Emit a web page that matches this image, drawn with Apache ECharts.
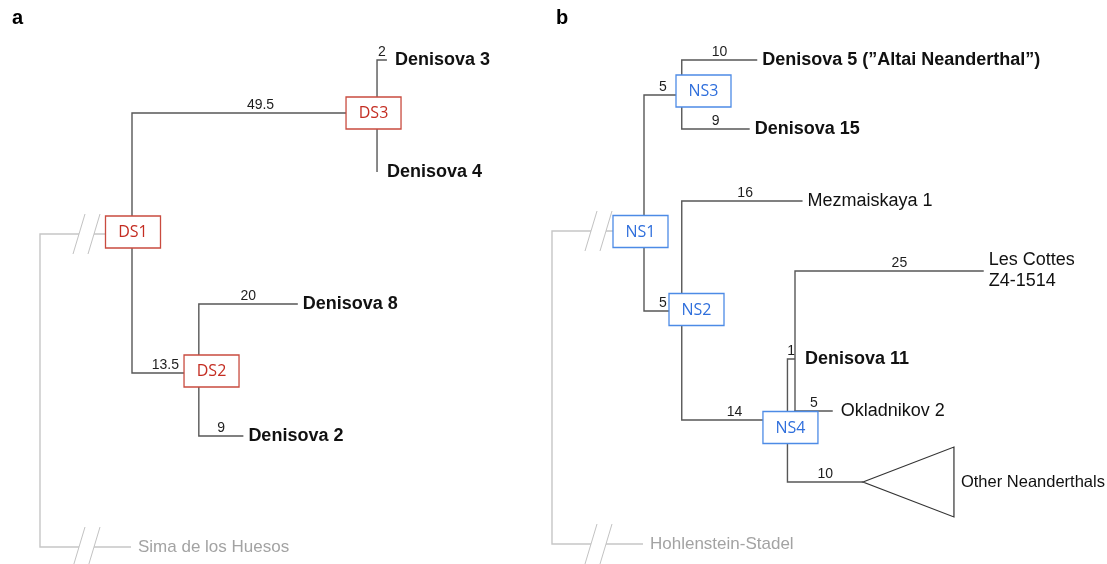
<!DOCTYPE html>
<html>
<head>
<meta charset="utf-8">
<title>Denisovan and Neanderthal phylogenies</title>
<script src="https://cdn.jsdelivr.net/npm/echarts@6/dist/echarts.min.js"></script>
<style>
  html, body { margin: 0; padding: 0; background: #ffffff; }
  #chart { width: 1107px; height: 564px; }
</style>
</head>
<body>
<div id="chart"></div>
<script>
// ---- Tree data -------------------------------------------------------------
// Nodes are listed parent-first; lengths are branch lengths from the parent.

// a: Denisovan lineage
const nodesA   = ['DS1', 'DS3', 'DS2', 'Denisova 3', 'Denisova 4', 'Denisova 8', 'Denisova 2'];
const parentsA = ['',    'DS1', 'DS1', 'DS3',        'DS3',        'DS2',        'DS2'];
const lengthsA = [0,     49.5,  13.5,  2,            0,            20,           9];
const outgroupA = 'Sima de los Huesos';

// b: Neanderthal lineage ('n4a' is the unnamed split inside NS4)
const nodesB   = ['NS1', 'NS3', 'NS2', 'Denisova 5 (\u201DAltai Neanderthal\u201D)', 'Denisova 15',
                  'Mezmaiskaya 1', 'NS4', 'Denisova 11', 'n4a', 'Les Cottes\nZ4-1514',
                  'Okladnikov 2', 'Other Neanderthals'];
const parentsB = ['',    'NS1', 'NS1', 'NS3', 'NS3', 'NS2', 'NS2', 'NS4', 'NS4', 'n4a', 'n4a', 'NS4'];
const lengthsB = [0,     5,     5,     10,    9,     16,    14,    1,     1,     25,    5,     10];
const outgroupB = 'Hohlenstein-Stadel';

// ---- Layout ----------------------------------------------------------------
const W = 1107, H = 564;
const LINE = '#575757', GREY = '#c6c6c6', GREY_TEXT = '#a3a3a3';
const FONT = '"Liberation Sans", Arial, Helvetica, sans-serif';

const layoutA = {
  tag: 'a', tagLeft: 7,
  originPx: 132, pxPerUnit: 4.95,
  row: { 'DS1': 234, 'DS3': 113, 'DS2': 373, 'Denisova 3': 60, 'Denisova 4': 172,
         'Denisova 8': 304, 'Denisova 2': 436 },
  box: { 'DS1': [1, -2], 'DS3': [-3.5, 0], 'DS2': [12.7, -2] },
  tipGap: { 'Denisova 3': 8, 'Denisova 4': 10 },
  lenDx: { 'DS3': 6 },
  quiet: [],
  collapsed: [],
  outgroupRow: 547
};
const layoutB = {
  tag: 'b', tagLeft: 551,
  originPx: 644, pxPerUnit: 7.55,
  row: { 'NS1': 231, 'NS3': 95, 'NS2': 311, 'Denisova 5 (\u201DAltai Neanderthal\u201D)': 60,
         'Denisova 15': 129, 'Mezmaiskaya 1': 201, 'NS4': 420, 'Denisova 11': 359, 'n4a': 420,
         'Les Cottes\nZ4-1514': 271, 'Okladnikov 2': 411, 'Other Neanderthals': 482 },
  box: { 'NS1': [-3.5, 0.5], 'NS3': [21.75, -4], 'NS2': [14.75, -1.5], 'NS4': [3, 7.5] },
  tipGap: { 'Denisova 11': 10, 'Okladnikov 2': 8 },
  lenDx: { 'Les Cottes\nZ4-1514': 10, 'Mezmaiskaya 1': 3 },
  quiet: ['n4a'],
  collapsed: ['Other Neanderthals'],
  outgroupRow: 544
};

function buildPanel(nodes, parents, lengths, outgroup, layout) {
  const x = {};
  nodes.forEach((n, i) => { x[n] = parents[i] ? x[parents[i]] + lengths[i] : 0; });
  return { nodes, parents, lengths, outgroup, layout, x };
}
const panelA = buildPanel(nodesA, parentsA, lengthsA, outgroupA, layoutA);
const panelB = buildPanel(nodesB, parentsB, lengthsB, outgroupB, layoutB);

// ---- Renderers ---------------------------------------------------------------
function branchRenderer(panel) {
  const L = panel.layout;
  return function (params, api) {
    const i = api.value(4);
    const name = panel.nodes[i];
    const p0 = api.coord([api.value(0), api.value(1)]);
    const corner = api.coord([api.value(0), api.value(3)]);
    const p1 = api.coord([api.value(2), api.value(3)]);
    const kids = [{
      type: 'polyline',
      shape: { points: [p0, corner, p1] },
      style: { stroke: LINE, lineWidth: 1.4, fill: 'none' }
    }];
    const len = panel.lengths[i];
    if (len > 0 && L.quiet.indexOf(name) < 0) {
      kids.push({
        type: 'text',
        style: {
          text: String(len), x: (p0[0] + p1[0]) / 2 + (L.lenDx[name] || 0), y: p1[1] - 1,
          align: 'center', verticalAlign: 'bottom', font: '14px ' + FONT, fill: '#1e1e1e'
        }
      });
    }
    const isTip = panel.parents.indexOf(name) < 0;
    if (isTip) {
      let tx = p1[0];
      let size = 18;
      if (L.collapsed.indexOf(name) >= 0) {
        const cw = 91, ch = 35;
        kids.push({
          type: 'polygon',
          shape: { points: [[p1[0], p1[1]], [p1[0] + cw, p1[1] - ch], [p1[0] + cw, p1[1] + ch]] },
          style: { stroke: '#333333', lineWidth: 1.2, fill: 'none' }
        });
        tx += cw + 2;
        size = 16.5;
      }
      tx += (L.tipGap[name] != null ? L.tipGap[name] : 5);
      const bold = /^Denisova/.test(name);
      kids.push({
        type: 'text',
        style: {
          text: name, x: tx, y: p1[1], align: 'left', verticalAlign: 'middle',
          font: (bold ? 'bold ' : '') + size + 'px ' + FONT, fill: '#111111', lineHeight: 21
        }
      });
    }
    return { type: 'group', children: kids };
  };
}

function boxRenderer(panel) {
  const L = panel.layout;
  return function (params, api) {
    const name = panel.nodes[api.value(2)];
    const c = api.coord([api.value(0), api.value(1)]);
    const off = L.box[name] || [0, 0];
    const cx = c[0] + off[0], cy = c[1] + off[1];
    const red = /^DS/.test(name);
    return {
      type: 'group',
      children: [
        { type: 'rect', shape: { x: cx - 27.5, y: cy - 16, width: 55, height: 32 },
          style: { fill: '#ffffff', stroke: red ? '#c94b3f' : '#4d8be6', lineWidth: 1.3 } },
        { type: 'text', style: { text: name, x: cx, y: cy + 0.5, align: 'center', verticalAlign: 'middle',
          font: '16px "Open Sans", "Noto Sans", sans-serif', fill: red ? '#c42d22' : '#2f6fdc' } }
      ]
    };
  };
}

// Broken branch to the distant outgroup, drawn in grey with // marks.
function outgroupRenderer(panel) {
  const L = panel.layout;
  return function (params, api) {
    const root = api.coord([api.value(0), api.value(1)]);
    const yb = api.coord([0, L.outgroupRow])[1];
    const y0 = root[1];
    const vx = root[0] - 92, mid = root[0] - 45.5, endX = root[0] - 1;
    const s1 = mid - 7.5, s2 = mid + 7.5;
    const line = (pts, w, col) => ({ type: 'polyline', shape: { points: pts },
      style: { stroke: col || GREY, lineWidth: w || 1.4, fill: 'none' } });
    const slash = (sx, y) => line([[sx - 6, y + 20], [sx + 6, y - 20]], 1, '#c2c2c2');
    return {
      type: 'group',
      children: [
        line([[root[0], y0], [s2, y0]]),
        line([[s1, y0], [vx, y0], [vx, yb], [s1, yb]]),
        line([[s2, yb], [endX, yb]]),
        slash(s1, y0), slash(s2, y0), slash(s1, yb), slash(s2, yb),
        { type: 'text', style: { text: panel.outgroup, x: endX + 7, y: yb, align: 'left',
          verticalAlign: 'middle', font: '17px ' + FONT, fill: GREY_TEXT } }
      ]
    };
  };
}

function branchData(panel) {
  const out = [];
  panel.nodes.forEach((n, i) => {
    const p = panel.parents[i];
    if (!p) return;
    out.push([panel.x[p], panel.layout.row[p], panel.x[n], panel.layout.row[n], i]);
  });
  return out;
}
function boxData(panel) {
  const out = [];
  panel.nodes.forEach((n, i) => {
    if (/^(DS|NS)\d/.test(n)) out.push([panel.x[n], panel.layout.row[n], i]);
  });
  return out;
}

// ---- Chart -------------------------------------------------------------------
const panels = [panelA, panelB];
const option = {
  animation: false,
  backgroundColor: '#ffffff',
  title: panels.map(p => ({
    text: p.layout.tag, left: p.layout.tagLeft, top: 3,
    textStyle: { fontFamily: FONT, fontSize: 20, fontWeight: 'bold', color: '#000000' }
  })),
  grid: panels.map(() => ({ left: 0, right: 0, top: 0, bottom: 0 })),
  xAxis: panels.map((p, k) => ({
    type: 'value', gridIndex: k, show: false,
    min: -p.layout.originPx / p.layout.pxPerUnit,
    max: (W - p.layout.originPx) / p.layout.pxPerUnit
  })),
  yAxis: panels.map((p, k) => ({
    type: 'value', gridIndex: k, show: false, inverse: true, min: 0, max: H
  })),
  series: []
};
panels.forEach((p, k) => {
  const rootName = p.nodes[0];
  option.series.push(
    { type: 'custom', xAxisIndex: k, yAxisIndex: k, clip: false, z: 2,
      renderItem: outgroupRenderer(p), data: [[p.x[rootName], p.layout.row[rootName]]],
      encode: { x: 0, y: 1 } },
    { type: 'custom', xAxisIndex: k, yAxisIndex: k, clip: false, z: 3,
      renderItem: branchRenderer(p), data: branchData(p), encode: { x: [0, 2], y: [1, 3] } },
    { type: 'custom', xAxisIndex: k, yAxisIndex: k, clip: false, z: 4,
      renderItem: boxRenderer(p), data: boxData(p), encode: { x: 0, y: 1 } }
  );
});

const chart = echarts.init(document.getElementById('chart'), null, { renderer: 'canvas' });
chart.setOption(option);
</script>
</body>
</html>
